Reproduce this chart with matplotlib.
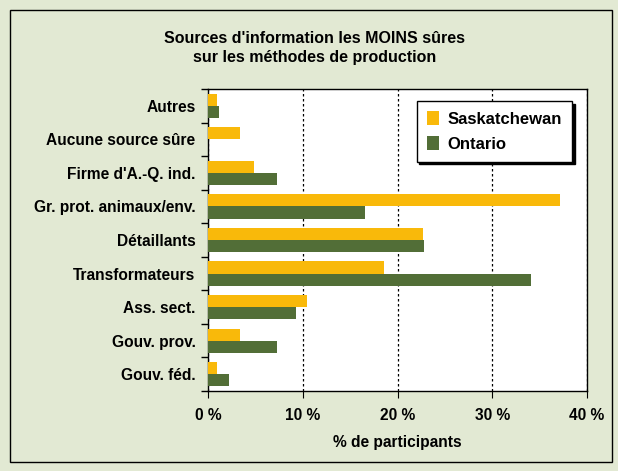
import numpy as np
import matplotlib
matplotlib.use('Agg')
import matplotlib.pyplot as plt
from matplotlib.patches import Rectangle

plt.rcParams['font.family'] = ['Liberation Sans', 'DejaVu Sans']

categories = ['Autres', 'Aucune source sûre', "Firme d'A.-Q. ind.", 'Gr. prot. animaux/env.',
              'Détaillants', 'Transformateurs', 'Ass. sect.', 'Gouv. prov.', 'Gouv. féd.']
saskatchewan = [0.9, 3.4, 4.9, 37.2, 22.7, 18.6, 10.5, 3.4, 0.9]
ontario = [1.15, 0.0, 7.3, 16.6, 22.8, 34.1, 9.3, 7.3, 2.2]
xticks = [0, 10, 20, 30, 40]
xtick_labels = ['0 %', '10 %', '20 %', '30 %', '40 %']

bg = '#E2E9D3'
yellow = '#F9B90A'
green = '#526E37'

fig = plt.figure(figsize=(6.18, 4.71), dpi=100, facecolor=bg)
fig.patches.append(Rectangle((10 / 618, 9 / 471), 602 / 618, 452 / 471, transform=fig.transFigure,
                             fill=False, edgecolor='black', linewidth=1.0))

ax = fig.add_axes([208 / 618, 1 - 391 / 471, 379 / 618, 302 / 471])
ax.set_facecolor('white')

y = np.arange(len(categories))
h = 0.36
ax.barh(y - h / 2, saskatchewan, height=h, color=yellow, label='Saskatchewan', zorder=3)
ax.barh(y + h / 2, ontario, height=h, color=green, label='Ontario', zorder=3)

ax.set_ylim(len(categories) - 0.5, -0.5)
ax.set_xlim(0, 40)
ax.set_yticks(y)
ax.set_yticklabels(categories, fontsize=11.2, fontweight='bold')
ax.set_yticks(np.arange(len(categories) + 1) - 0.5, minor=True)
ax.tick_params(axis='y', which='major', length=0, pad=9)
ax.tick_params(axis='y', which='minor', length=5, width=1)
ax.set_xticks(xticks)
ax.set_xticklabels(xtick_labels, fontsize=11.2, fontweight='bold')
ax.tick_params(axis='x', length=5, pad=7)
ax.xaxis.grid(True, linestyle=(0, (2, 2)), color='black', linewidth=0.9, zorder=1)
for s in ax.spines.values():
    s.set_linewidth(1.0)
ax.set_xlabel('% de participants', fontsize=11.2, fontweight='bold', labelpad=9)

leg = ax.legend(loc='upper right', bbox_to_anchor=(0.96, 0.96), fontsize=12, frameon=True,
                fancybox=False, shadow={'color': 'black', 'alpha': 1}, handlelength=0.75,
                handleheight=0.9, borderpad=0.6, labelspacing=0.55, handletextpad=0.5,
                borderaxespad=0)
leg.get_frame().set_edgecolor('black')
leg.get_frame().set_linewidth(1.0)
for t in leg.get_texts():
    t.set_fontweight('bold')

fig.text(315 / 618, 1 - 48 / 471, "Sources d'information les MOINS sûres\nsur les méthodes de production",
         ha='center', va='center', fontsize=11.5, fontweight='bold', linespacing=1.4)

fig.savefig('out.png', dpi=100, facecolor=bg)
